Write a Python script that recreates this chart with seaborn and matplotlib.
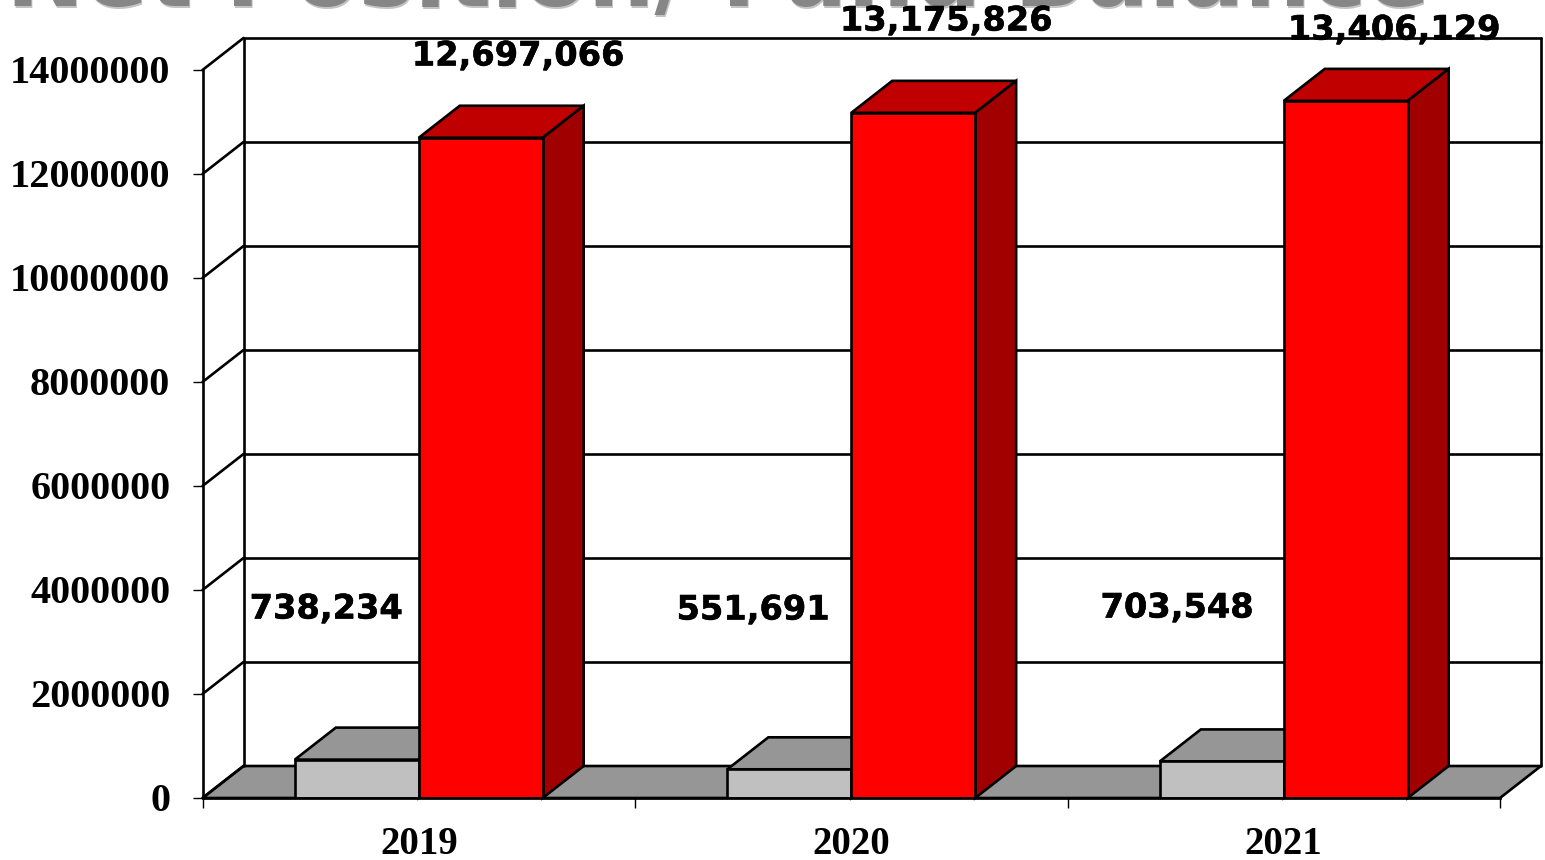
import matplotlib
matplotlib.use("Agg")
import pandas as pd
import matplotlib.pyplot as plt
import matplotlib.patheffects as pe
import seaborn as sns
from matplotlib.patches import Polygon
from matplotlib.transforms import Affine2D, IdentityTransform

# chart values
years = ["2019", "2020", "2021"]
gray_values = [738234, 551691, 703548]
red_values = [12697066, 13175826, 13406129]
y_ticks = [0, 2000000, 4000000, 6000000, 8000000, 10000000, 12000000, 14000000]
title_text = "Net Position/ Fund Balance"

DX, DY = 41, 32  # depth of the fake 3d, in pixels
LW = 1.9

df = pd.DataFrame({
    "year": years * 2,
    "kind": ["gray"] * 3 + ["red"] * 3,
    "value": gray_values + red_values,
})

sns.set_theme(style="white")
plt.rcParams["font.family"] = ["Liberation Serif"]

fig = plt.figure(figsize=(15.45, 8.6), dpi=100)
ax = fig.add_axes([202.5 / 1545, 62 / 860, 1297.5 / 1545, 728 / 860])

sns.barplot(data=df, x="year", y="value", hue="kind", order=years, hue_order=["gray", "red"],
            palette={"gray": "#C0C0C0", "red": "#FF0000"}, saturation=1, width=0.573, gap=0,
            edgecolor="black", linewidth=LW, legend=False, ax=ax, zorder=5)

ax.set_xlim(-0.5, 2.5)
ax.set_ylim(0, 14000000)
ax.set_xlabel("")
ax.set_ylabel("")
ax.patch.set_alpha(0)
for s in ["top", "right", "left"]:
    ax.spines[s].set_visible(False)
ax.spines["bottom"].set_linewidth(LW)
ax.spines["bottom"].set_color("black")
ax.spines["bottom"].set_zorder(7)


def px(x, y):
    return ax.transData.transform((x, y))


def poly(points, color, z):
    ax.add_patch(Polygon(points, closed=True, facecolor=color, edgecolor="black", linewidth=LW,
                         transform=IdentityTransform(), clip_on=False, zorder=z))


def line(p, q, z=2):
    ax.plot([p[0], q[0]], [p[1], q[1]], color="black", lw=LW, transform=IdentityTransform(),
            clip_on=False, zorder=z, solid_capstyle="round")


# walls and floor
x0, x1 = ax.get_xlim()
ax.set_yticks(y_ticks)
ax.set_yticklabels([str(v) for v in y_ticks], fontsize=29, fontweight="bold", color="black")
ax.set_xticks(range(3))
ax.set_xticklabels(years, fontsize=28, fontweight="bold", color="black")
ax.set_xticks([-0.5, 0.5, 1.5, 2.5], minor=True)
ax.tick_params(axis="y", length=7.2, width=1, pad=16, left=True, color="black")
ax.tick_params(axis="x", which="major", length=0, pad=20)
ax.tick_params(axis="x", which="minor", length=7.2, width=1, bottom=True, color="black")
for lab in ax.get_yticklabels():
    lab.set_transform(lab.get_transform() + Affine2D().translate(0, 1))

a, b = px(x0, 0), px(x1, 0)
poly([a, b, b + (DX, DY), a + (DX, DY)], "#969696", 1)
for v in y_ticks:
    p = px(x0, v)
    line(p, p + (DX, DY))
    if v > 0:
        line(p + (DX, DY), px(x1, v) + (DX, DY))
top_l, top_r = px(x0, y_ticks[-1]), px(x1, y_ticks[-1])
line(a, top_l)
line(a + (DX, DY), top_l + (DX, DY))
line(b + (DX, DY), top_r + (DX, DY))

# depth faces of each bar, taken from the bars seaborn drew
bars = list(ax.patches)[:6]
for i, bar in enumerate(bars):
    is_red = i >= 3
    l, r = bar.get_x(), bar.get_x() + bar.get_width()
    h = bar.get_height()
    z = 4.5 if is_red else 3
    poly([px(l, h), px(r, h), px(r, h) + (DX, DY), px(l, h) + (DX, DY)],
         "#C00000" if is_red else "#969696", z)
    poly([px(r, 0), px(r, h), px(r, h) + (DX, DY), px(r, 0) + (DX, DY)],
         "#A00000" if is_red else "#808080", z)
    bar.set_zorder(5 if is_red else 3.5)

# value labels, hand placed in the original
label_font = dict(family="DejaVu Sans", fontweight="bold", fontsize=24.2, color="black",
                  ha="center", va="center", zorder=10,
                  path_effects=[pe.withStroke(linewidth=0.4, foreground="black")])
gray_pos = [(326, 609), (753, 610), (1177, 608)]
red_pos = [(518, 56), (946, 21), (1394, 30)]
for v, (tx, ty) in zip(gray_values + red_values, gray_pos + red_pos):
    fig.text(tx / 1545, 1 - ty / 860, f"{v:,}", **label_font)

# title runs off the top edge in the original too, with a pale drop shadow
title_font = dict(family="DejaVu Sans", fontweight="bold", fontsize=67.5, ha="center", va="baseline")
fig.text(719 / 1545, 1 - 8 / 860, title_text, color="#C4C4C4", **title_font)
fig.text(717.5 / 1545, 1 - 6 / 860, title_text, color="#868686", **title_font)

fig.savefig("out.png", dpi=100)
